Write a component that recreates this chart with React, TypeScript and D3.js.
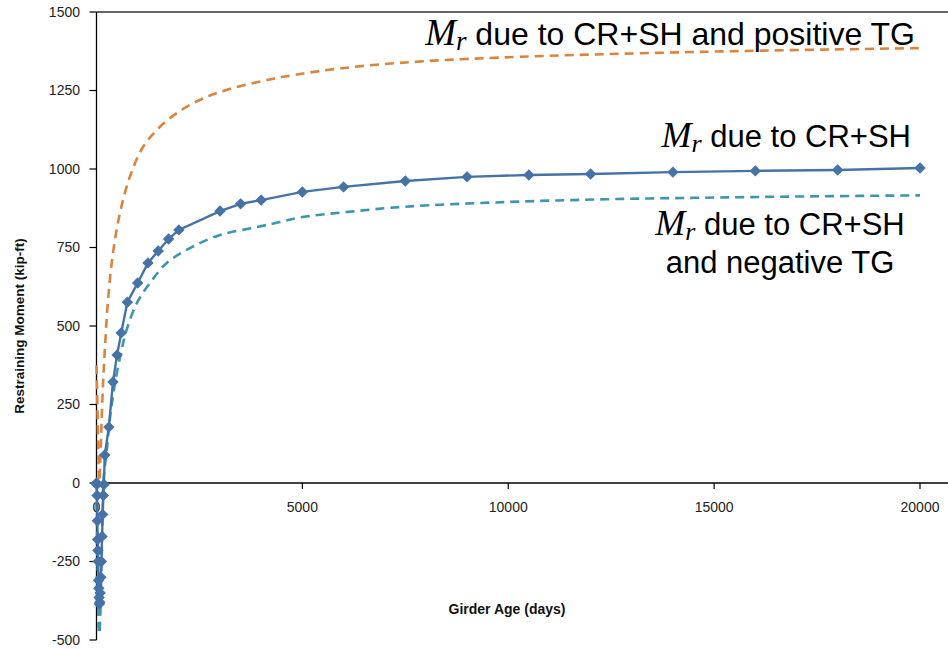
import React from "react";
import * as d3 from "d3";

const blueAges = [0,7,14,21,28,35,42,49,56,63,70,80,90,105,120,135,150,165,180,200,300,400,500,600,750,1000,1250,1500,1750,2000,3000,3500,4000,5000,6000,7500,9000,10500,12000,14000,16000,18000,20000];
const blueValues = [0,-5,-40,-120,-180,-215,-250,-310,-335,-365,-385,-380,-350,-300,-250,-170,-100,-40,-5,89,178,322,408,478,576,637,701,739,777,806,866,889,901,927,943,962,975,981,984,990,994,997,1003];

const tealAges = [0,14,28,42,56,70,90,110,130,150,170,250,330,450,610,730,980,1300,1700,2270,3000,3900,4450,5000,6000,7500,10000,12500,15000,17500,20000];
const tealValues = [-60,-150,-280,-400,-470,-480,-430,-330,-200,-90,10,105,210,318,424,487,573,637,700,748,790,815,831,847,862,880,895,904,909,913,916];

const orangeAges = [0,14,28,42,56,70,90,120,160,206,280,400,570,810,1130,1540,2030,2590,3190,4020,4820,5900,7370,9800,14650,20000];
const orangeValues = [375,300,200,110,30,5,60,180,320,433,583,732,860,975,1070,1134,1185,1225,1253,1280,1300,1320,1338,1355,1373,1385];

const xTicks = [0, 5000, 10000, 15000, 20000];
const yTicks = [-500, -250, 0, 250, 500, 750, 1000, 1250, 1500];

const W = 948, H = 649;

export default function App() {
  const x = d3.scaleLinear().domain([0, 20000]).range([96.5, 920]);
  const y = d3.scaleLinear().domain([-500, 1500]).range([640, 12]);

  const mk = (ages: number[], vals: number[]) => ages.map((a, i) => [a, vals[i]] as [number, number]);
  const blue = mk(blueAges, blueValues);
  const teal = mk(tealAges, tealValues);
  const orange = mk(orangeAges, orangeValues);

  const smooth = d3.line<[number, number]>().x(d => x(d[0])).y(d => y(d[1])).curve(d3.curveCatmullRom.alpha(0.5));
  const straight = d3.line<[number, number]>().x(d => x(d[0])).y(d => y(d[1]));
  const diamond = d3.symbol().type(d3.symbolSquare).size(50)();

  const sans = "Arial, 'Liberation Sans', sans-serif";
  const serif = "'Times New Roman', 'Liberation Serif', serif";

  return (
    <svg width={W} height={H} style={{ position: "absolute", left: 0, top: 0, background: "#fff" }} fontFamily={sans}>
      {/* top border */}
      <line x1={x(0)} x2={W} y1={y(1500)} y2={y(1500)} stroke="#333" strokeWidth={1.3} />
      {/* y axis */}
      <line x1={x(0)} x2={x(0)} y1={y(1500)} y2={y(-500)} stroke="#000" strokeWidth={1.3} />
      {yTicks.map(t => (
        <g key={"y" + t}>
          <line x1={x(0) - 7} x2={x(0)} y1={y(t)} y2={y(t)} stroke="#000" strokeWidth={1.2} />
          <text x={80} y={y(t)} dy="0.35em" textAnchor="end" fontSize={14} fill="#222">{t}</text>
        </g>
      ))}
      {/* x axis at zero */}
      <line x1={x(0)} x2={W} y1={y(0)} y2={y(0)} stroke="#000" strokeWidth={1.3} />
      {xTicks.map(t => (
        <g key={"x" + t}>
          <line x1={x(t)} x2={x(t)} y1={y(0)} y2={y(0) + 6} stroke="#000" strokeWidth={1.2} />
          <text x={x(t)} y={512} textAnchor="middle" fontSize={14} fill="#222">{t}</text>
        </g>
      ))}
      {/* axis titles */}
      <text transform={`translate(19,${326}) rotate(-90)`} textAnchor="middle" dy="0.35em" fontSize={13.5} fontWeight="bold" fill="#111">Restraining Moment (kip-ft)</text>
      <text x={507} y={614} textAnchor="middle" fontSize={14} fontWeight="bold" fill="#111">Girder Age (days)</text>

      {/* series */}
      <path d={smooth(orange) || ""} fill="none" stroke="#DB843D" strokeWidth={2.6} strokeDasharray="9,6" />
      <path d={smooth(teal) || ""} fill="none" stroke="#3D96AE" strokeWidth={2.6} strokeDasharray="9,6" />
      <path d={straight(blue) || ""} fill="none" stroke="#4572A7" strokeWidth={2.4} />
      {blue.map((d, i) => (
        <path key={"m" + i} d={diamond || ""} transform={`translate(${x(d[0])},${y(d[1])}) rotate(45)`} fill="#4572A7" stroke="#4572A7" strokeWidth={1} />
      ))}

      {/* annotations */}
      <text x={915} y={45} textAnchor="end" fill="#000">
        <tspan fontFamily={serif} fontStyle="italic" fontSize={37}>M</tspan>
        <tspan fontFamily={serif} fontStyle="italic" fontSize={27} dy={5}>r</tspan>
        <tspan fontSize={32} dy={-5}> due to CR+SH and positive TG</tspan>
      </text>
      <text x={911} y={147} textAnchor="end" fill="#000">
        <tspan fontFamily={serif} fontStyle="italic" fontSize={36}>M</tspan>
        <tspan fontFamily={serif} fontStyle="italic" fontSize={26} dy={5}>r</tspan>
        <tspan fontSize={31} dy={-5}> due to CR+SH</tspan>
      </text>
      <text x={780} y={235} textAnchor="middle" fill="#000">
        <tspan fontFamily={serif} fontStyle="italic" fontSize={36}>M</tspan>
        <tspan fontFamily={serif} fontStyle="italic" fontSize={26} dy={5}>r</tspan>
        <tspan fontSize={31} dy={-5}> due to CR+SH</tspan>
      </text>
      <text x={780} y={273} textAnchor="middle" fontSize={31} fill="#000">and negative TG</text>
    </svg>
  );
}
